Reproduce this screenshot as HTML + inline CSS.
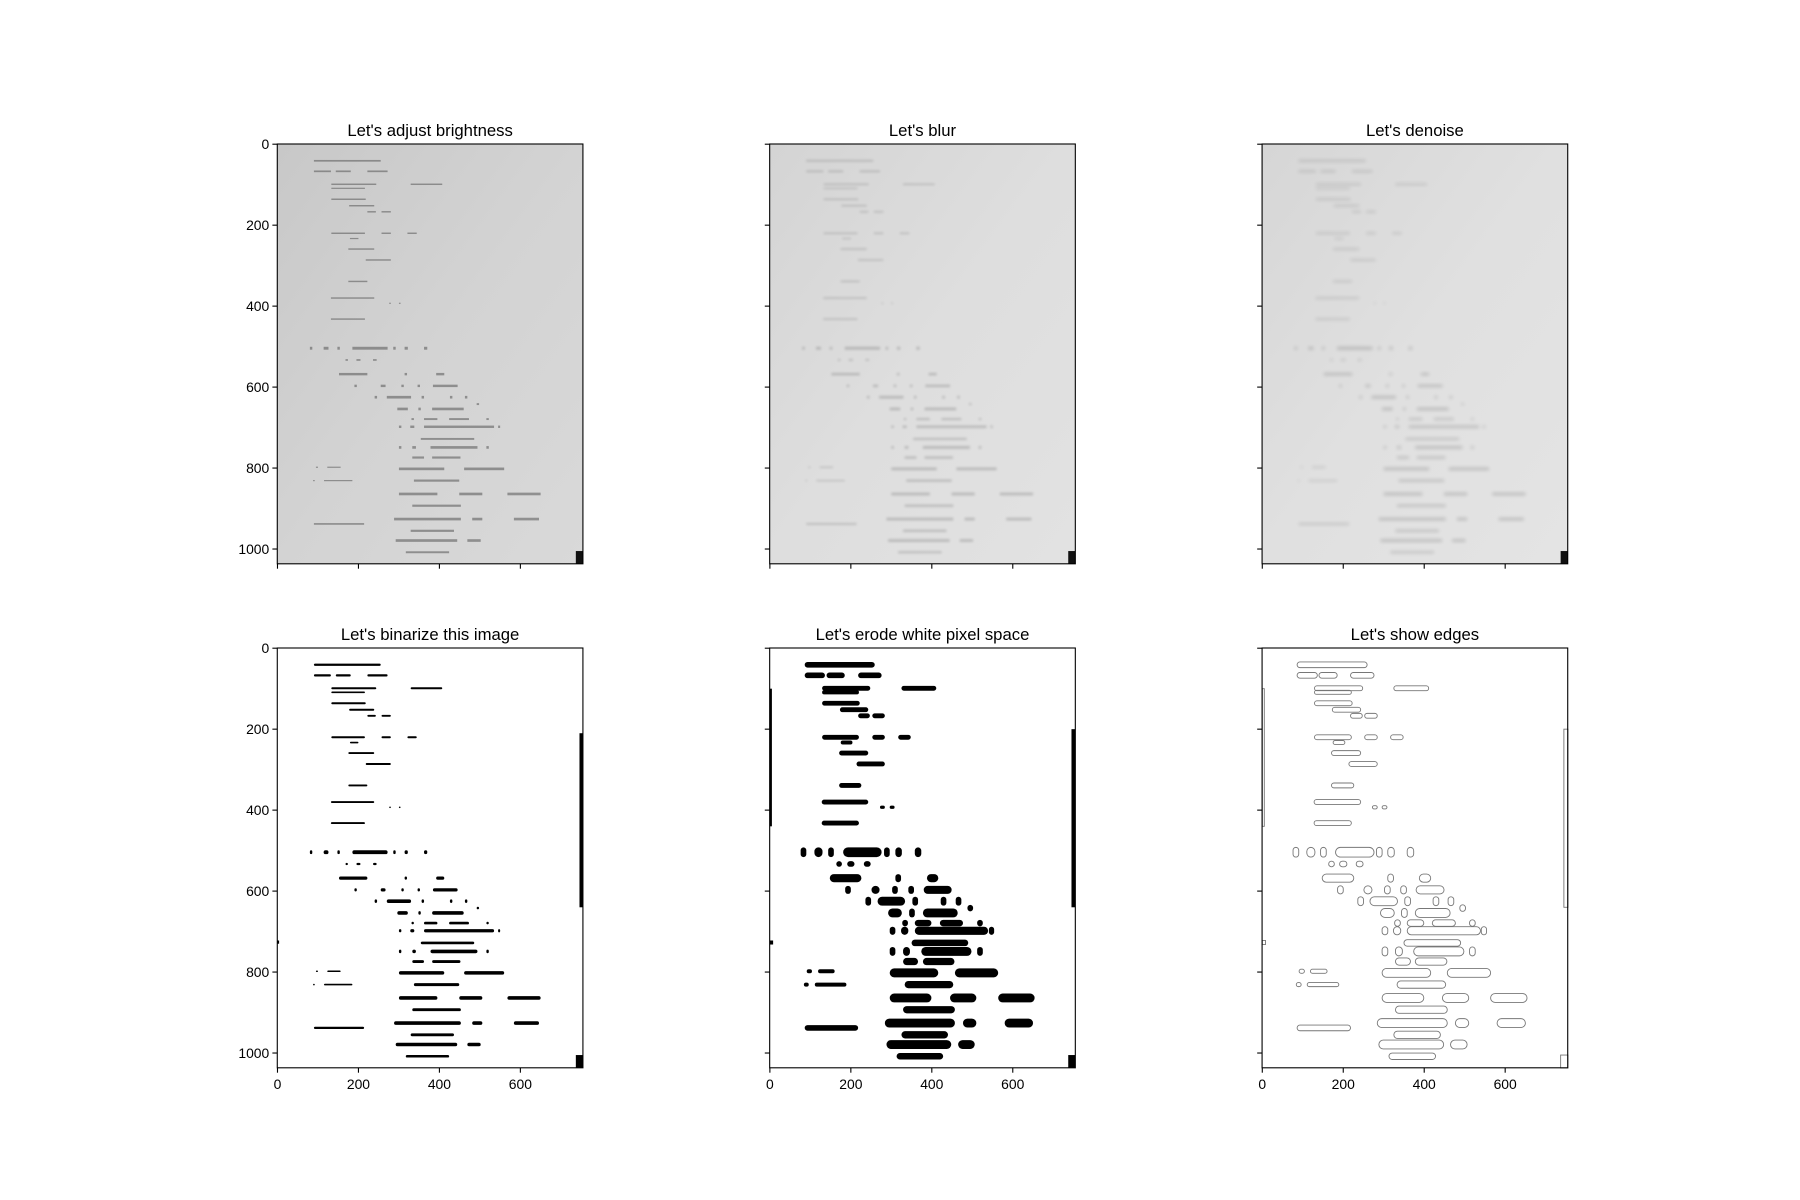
<!DOCTYPE html>
<html><head><meta charset="utf-8"><style>
html,body{margin:0;padding:0;background:#fff;}
svg{display:block;font-family:"Liberation Sans","DejaVu Sans",sans-serif;}
</style></head><body>
<svg id="fig" width="1800" height="1200" viewBox="0 0 1800 1200" xmlns="http://www.w3.org/2000/svg">
<defs>
<linearGradient id="g1" x1="0" y1="0" x2="1" y2="1"><stop offset="0" stop-color="#c8c8c8"/><stop offset="0.5" stop-color="#d3d3d3"/><stop offset="1" stop-color="#d9d9d9"/></linearGradient>
<linearGradient id="g2" x1="0" y1="0" x2="1" y2="1"><stop offset="0" stop-color="#d4d4d4"/><stop offset="0.5" stop-color="#dedede"/><stop offset="1" stop-color="#e2e2e2"/></linearGradient>
<linearGradient id="g3" x1="0" y1="0" x2="1" y2="1"><stop offset="0" stop-color="#d6d6d6"/><stop offset="0.5" stop-color="#e0e0e0"/><stop offset="1" stop-color="#e4e4e4"/></linearGradient>
<filter id="bl"><feGaussianBlur stdDeviation="1.2"/></filter>
<filter id="bl2"><feGaussianBlur stdDeviation="1.8"/></filter>
</defs>
</svg>
<script>
// data (image pixel coordinates)
const rowY=[41,67,99,109,136,152,167,220,233,259,286,339,380,393,432,504,533,568,597,625,642,654,679,698,728,749,774,802,831,864,893,926,955,979,1008,798,831,938];
const rowH=[14,14,12,10,12,12,12,12,10,12,12,12,12,8,12,24,14,20,20,22,16,22,16,20,16,22,18,22,18,22,18,22,18,22,16,10,10,14];
const rowSegs=[
[[90,255]],
[[90,132],[144,181],[222,272]],
[[133,244],[329,407]],
[[133,216]],
[[133,218]],
[[177,239]],
[[222,243],[257,280]],
[[133,216],[257,280],[321,344]],
[[179,200]],
[[175,239]],
[[218,280]],
[[175,222]],
[[132,239]],
[[276,280],[300,304]],
[[132,216]],
[[80,86],[114,126],[148,154],[185,272],[286,292],[314,322],[362,370]],
[[168,174],[195,205],[236,245]],
[[152,222],[314,320],[392,412]],
[[190,196],[255,267],[306,312],[346,352],[384,445]],
[[240,246],[270,330],[356,362],[426,432],[463,469]],
[[492,498]],
[[296,322],[348,354],[382,460]],
[[331,337],[362,395],[424,473],[516,522]],
[[300,306],[328,338],[362,535],[545,550]],
[[354,486]],
[[300,306],[333,342],[378,494],[516,522]],
[[333,362],[382,452]],
[[300,412],[461,560]],
[[337,449]],
[[300,395],[449,506],[568,650]],
[[333,453]],
[[288,453],[481,506],[584,646]],
[[329,436]],
[[292,444],[469,502]],
[[317,424]],
[[95,100],[123,156]],
[[88,92],[115,185]],
[[90,214]]
];
const yTicks=[0,200,400,600,800,1000];
const xTicks=[0,200,400,600];
const titles=["Let's adjust brightness","Let's blur","Let's denoise","Let's binarize this image","Let's erode white pixel space","Let's show edges"];
const imgW=755, imgH=1037;

const NS="http://www.w3.org/2000/svg";
const svg=document.getElementById('fig');
const cx=[430.1,922.5,1414.9], tops=[144,648];
const s=419.8/imgH, aw=imgW*s, ah=imgH*s;
function mk(t,a,p){const e=document.createElementNS(NS,t);for(const k in a)e.setAttribute(k,a[k]);(p||svg).appendChild(e);return e;}
for(let i=0;i<6;i++){
  const r=Math.floor(i/3), c=i%3;
  const x0=cx[c]-aw/2, y0=tops[r];
  const X=d=>x0+(d+0.5)*s, Y=d=>y0+(d+0.5)*s;
  const g=mk('g',{});
  
  
  if(r===0){
    const bg=mk('rect',{x:x0,y:y0,width:aw,height:ah,fill:'url(#g'+(c+1)+')'},g);
    
    
    const tg=mk('g',{fill:c===0?'#555':'#8a8a8a',opacity:c===0?0.55:0.45},g);
    if(c>0)tg.setAttribute('filter',c===1?'url(#bl)':'url(#bl2)');
    
    
    rowY.forEach((yy,k)=>{rowSegs[k].forEach(sg=>{
      const h=Math.max(3,rowH[k]*0.3);
      const e=mk('rect',{x:X(sg[0]),y:Y(yy-h/2),width:(sg[1]-sg[0])*s,height:h*s},tg);
      
      
    });});
    const sq=mk('rect',{x:X(737),y:Y(1005),width:18*s,height:32*s,fill:'#111'},g);
    
    
  } else {
    const bg=mk('rect',{x:x0,y:y0,width:aw,height:ah,fill:'#fff'},g);
    
    
    const edge=c===2;
    const col=edge?'none':'#000';
    const st=edge?'#777':'none';
    rowY.forEach((yy,k)=>{rowSegs[k].forEach(sg=>{
      let h=rowH[k]*(c===0?0.4:1), w=(sg[1]-sg[0])+(c===0?0:8), xs=sg[0]-(c===0?0:4);
      if(c===0&&h<4)h=4;
      const e=mk('rect',{x:X(xs),y:Y(yy-h/2),width:w*s,height:h*s,rx:Math.min(h,w)*s/2,fill:col,stroke:st,'stroke-width':0.9},g);
      
      
    });});
    const bars=c===0?[[746,210,8,430],[737,1005,18,32],[0,722,4,8]]:[[745,200,10,440],[0,100,5,340],[737,1005,18,32],[0,722,8,10]];
    bars.forEach(b=>{
      const e=mk('rect',{x:X(b[0]),y:Y(b[1]),width:b[2]*s,height:b[3]*s,fill:col,stroke:st,'stroke-width':0.9},g);
      
      
    });
  }
  const fr=mk('rect',{x:x0,y:y0,width:aw,height:ah,fill:'none',stroke:'#000','stroke-width':1.1},g);
  
  
  yTicks.forEach(v=>{
    const t=mk('line',{x1:x0,x2:x0-4.9,y1:Y(v),y2:Y(v),stroke:'#000','stroke-width':1.1},g);
    
    
    if(c===0){
      const l=mk('text',{x:x0-8,y:Y(v)+5,'text-anchor':'end','font-size':13.9,fill:'#000'},g);
      l.textContent=v;
      
      
    }
  });
  xTicks.forEach(v=>{
    const t=mk('line',{x1:X(v),x2:X(v),y1:y0+ah,y2:y0+ah+4.9,stroke:'#000','stroke-width':1.1},g);
    
    
    if(r===1){
      const l=mk('text',{x:X(v),y:y0+ah+21,'text-anchor':'middle','font-size':13.9,fill:'#000'},g);
      l.textContent=v;
      
      
    }
  });
  const tt=mk('text',{x:cx[c],y:y0-8,'text-anchor':'middle','font-size':16.7,fill:'#000'},g);
  tt.textContent=titles[i];
  
  
}
</script>
</body></html>
